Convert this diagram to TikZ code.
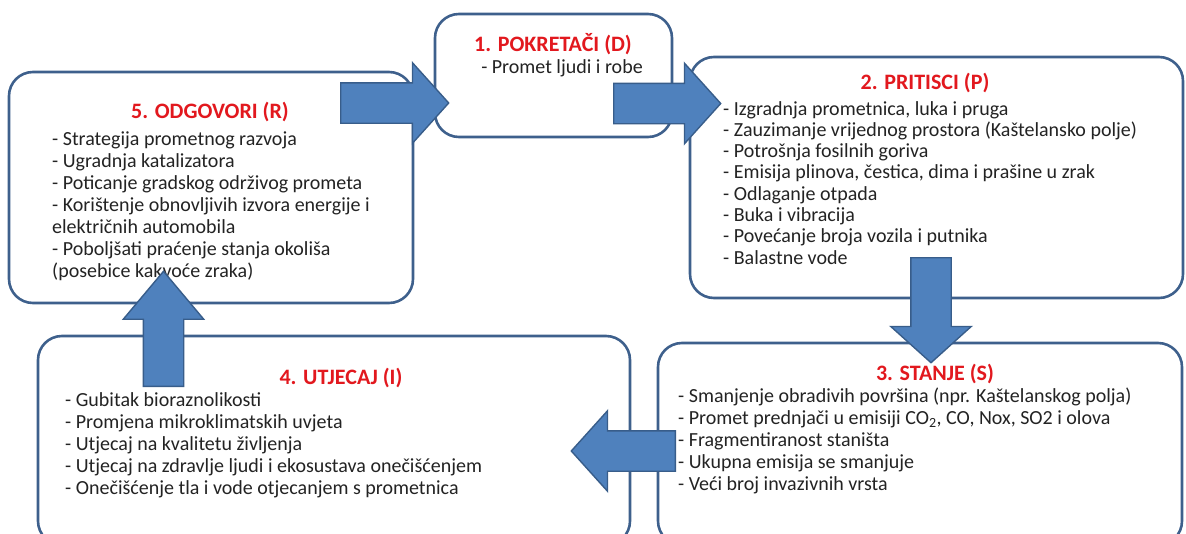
\documentclass[tikz,border=0pt]{standalone}
\usepackage{fontspec}
\setmainfont{Carlito}
\usetikzlibrary{
  shapes.arrows,
  positioning
}
\definecolor{boxborder}{RGB}{62, 96, 140}
\definecolor{arrowfill}{RGB}{79, 129, 189}
\definecolor{arrowborder}{RGB}{56, 93, 138}
\definecolor{titlecolor}{RGB}{226, 24, 30}
\definecolor{textcolor}{RGB}{35, 35, 35}
\tikzset{
stageblock/.style={
  draw=boxborder,
  line width=2.6pt,
  rounded corners=24pt,
  fill=white,
  inner sep=0pt
},
titlelabel/.style={
  font=\bfseries\fontsize{22}{24}\selectfont,
  text=titlecolor,
  inner sep=0pt
},
listtext/.style={
  font=\fontsize{20}{22}\selectfont,
  text=textcolor,
  align=left,
  inner sep=0pt,
  anchor=north west
},
blockarrow/.style={
  single arrow,
  draw=arrowborder,
  fill=arrowfill,
  line width=1.4pt,
  inner sep=19.5pt,
  single arrow head extend=20pt,
  single arrow tip angle=96,
  anchor=tail
}
}

\begin{document}
\begin{tikzpicture}[x=1pt, y=-1pt]
  \useasboundingbox (0,0) rectangle (1186,533);

  % stages
  \node[stageblock, minimum width=237pt, minimum height=123pt] (pokretaci) at (553.5,75.5) {};
  \node[stageblock, minimum width=493pt, minimum height=241pt] (pritisci) at (936.5,177.5) {};
  \node[stageblock, minimum width=404pt, minimum height=231pt] (odgovori) at (211,187.5) {};
  \node[stageblock, minimum width=592pt, minimum height=209pt] (utjecaj) at (334,440.5) {};
  \node[stageblock, minimum width=524pt, minimum height=202pt] (stanje) at (920,444) {};

  % texts
  \node[titlelabel] (titleD) at (553,44) {1. POKRETAČI (D)};
  \node[listtext, anchor=north] (listD) at (562,59) {- Promet ljudi i robe};

  \node[titlelabel] (titleP) at (925,83) {2. PRITISCI (P)};
  \node[listtext, font=\fontsize{20}{21.3}\selectfont] (listP) at (723,101) {- Izgradnja prometnica, luka i pruga\\
    - Zauzimanje vrijednog prostora (Kaštelansko polje)\\
    - Potrošnja fosilnih goriva\\
    - Emisija plinova, čestica, dima i prašine u zrak\\
    - Odlaganje otpada\\
    - Buka i vibracija\\
    - Povećanje broja vozila i putnika\\
    - Balastne vode};

  \node[titlelabel] (titleS) at (935,374) {3. STANJE (S)};
  \node[listtext] (listS) at (678,388) {- Smanjenje obradivih površina (npr. Kaštelanskog polja)\\
    - Promet prednjači u emisiji CO\textsubscript{2}, CO, Nox, SO2 i olova\\
    - Fragmentiranost staništa\\
    - Ukupna emisija se smanjuje\\
    - Veći broj invazivnih vrsta};

  \node[titlelabel] (titleI) at (341,378) {4. UTJECAJ (I)};
  \node[listtext] (listI) at (65,392) {- Gubitak bioraznolikosti\\
    - Promjena mikroklimatskih uvjeta\\
    - Utjecaj na kvalitetu življenja\\
    - Utjecaj na zdravlje ljudi i ekosustava onečišćenjem\\
    - Onečišćenje tla i vode otjecanjem s prometnica};

  \node[titlelabel] (titleR) at (210,112) {5. ODGOVORI (R)};
  \node[listtext] (listR) at (52,132) {- Strategija prometnog razvoja\\
    - Ugradnja katalizatora\\
    - Poticanje gradskog održivog prometa\\
    - Korištenje obnovljivih izvora energije i\\
    električnih automobila\\
    - Poboljšati praćenje stanja okoliša\\
    (posebice kakvoće zraka)};

  % arrows
  \node[blockarrow, minimum height=108pt] (arrowRD) at (340,103) {};
  \node[blockarrow, minimum height=107pt] (arrowDP) at (613,103.5) {};
  \node[blockarrow, minimum height=105pt, rotate=-90] (arrowPS) at (931,257) {};
  \node[blockarrow, minimum height=104pt, rotate=180] (arrowSI) at (676,451) {};
  \node[blockarrow, minimum height=115pt, single arrow tip angle=80, rotate=90] (arrowIR) at (163.5,387) {};
\end{tikzpicture}
\end{document}
